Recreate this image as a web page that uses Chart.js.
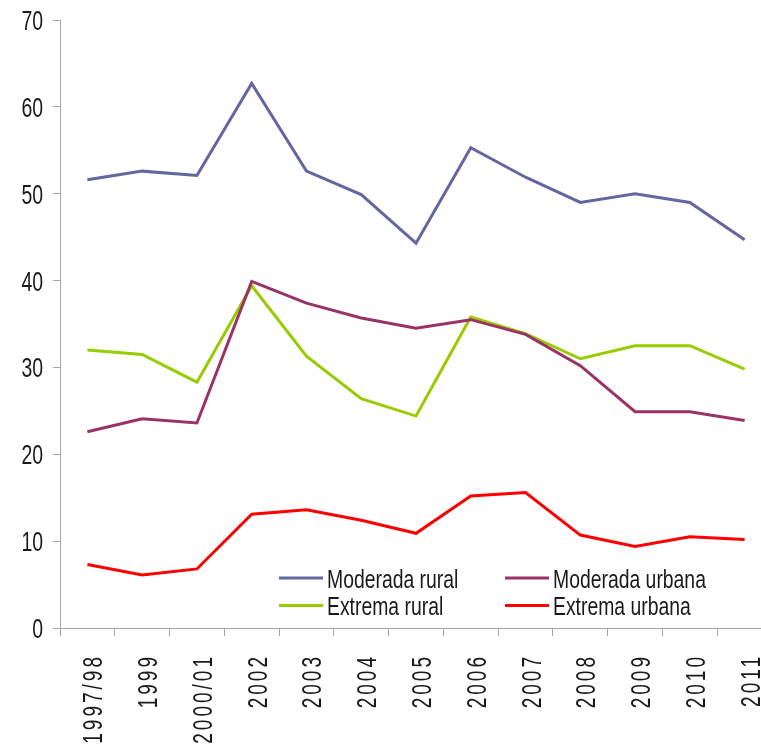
<!DOCTYPE html>
<html>
<head>
<meta charset="utf-8">
<script src="https://cdn.jsdelivr.net/npm/chart.js@4/dist/chart.umd.min.js"></script>
<style>
html,body{margin:0;padding:0;background:#fff;overflow:hidden;}
#wrap{position:relative;width:775px;height:753px;}
</style>
</head>
<body>
<div id="wrap"><canvas id="c"></canvas></div>
<script>
const categories = ["1997/98","1999","2000/01","2002","2003","2004","2005","2006","2007","2008","2009","2010","2011"];
const moderadaRural  = [51.6, 52.6, 52.1, 62.7, 52.6, 49.9, 44.3, 55.3, 51.9, 49.0, 50.0, 49.0, 44.7];
const moderadaUrbana = [22.6, 24.1, 23.6, 39.9, 37.4, 35.7, 34.5, 35.5, 33.8, 30.2, 24.9, 24.9, 23.9];
const extremaRural   = [32.0, 31.5, 28.3, 39.4, 31.3, 26.4, 24.4, 35.8, 33.9, 31.0, 32.5, 32.5, 29.8];
const extremaUrbana  = [7.3, 6.1, 6.8, 13.1, 13.6, 12.4, 10.9, 15.2, 15.6, 10.7, 9.4, 10.5, 10.2];
const yTicks = [0, 10, 20, 30, 40, 50, 60, 70];
const seriesNames = ["Moderada rural", "Moderada urbana", "Extrema rural", "Extrema urbana"];

const FONT = '"Liberation Sans", Arial, sans-serif';
const TEXT = '#1a1a1a';
const colors = ["#63669f", "#993366", "#99cc00", "#ff0000"];
const seriesData = [moderadaRural, moderadaUrbana, extremaRural, extremaUrbana];

// draws tick labels (condensed) and legend as canvas text
const textPlugin = {
  id: 'condensedText',
  afterDraw(chart) {
    const ctx = chart.ctx;
    const xs = chart.scales.x, ys = chart.scales.y;
    ctx.save();
    ctx.fillStyle = TEXT;
    // y labels
    ctx.font = '27px ' + FONT;
    ctx.textAlign = 'right';
    ctx.textBaseline = 'alphabetic';
    ys.ticks.forEach((t, i) => {
      const y = ys.getPixelForTick(i);
      ctx.save();
      ctx.translate(43, y + 10);
      ctx.scale(0.72, 1);
      ctx.fillText(String(t.value), 0, 0);
      ctx.restore();
    });
    // x labels
    ctx.font = '28px ' + FONT;
    xs.ticks.forEach((t, i) => {
      const x = xs.getPixelForTick(i);
      ctx.save();
      ctx.translate(x + 15, 654);
      ctx.rotate(-Math.PI / 2);
      ctx.scale(0.68, 1);
      ctx.letterSpacing = '4.4px';
      ctx.textAlign = 'right';
      ctx.fillText(String(xs.getLabelForValue(t.value)), 0, 0);
      ctx.restore();
    });
    // legend
    ctx.font = '26px ' + FONT;
    ctx.textAlign = 'left';
    const pos = [[279, 578], [505, 578], [279, 605.5], [505, 605.5]];
    chart.data.datasets.forEach((ds, i) => {
      const [x, y] = pos[i];
      ctx.strokeStyle = ds.borderColor;
      ctx.lineWidth = 3;
      ctx.beginPath();
      ctx.moveTo(x, y);
      ctx.lineTo(x + 44, y);
      ctx.stroke();
      ctx.save();
      ctx.translate(x + 48, y + 9.5);
      ctx.scale(0.745, 1);
      ctx.fillText(ds.label, 0, 0);
      ctx.restore();
    });
    ctx.restore();
  }
};

new Chart(document.getElementById('c'), {
  type: 'line',
  data: {
    labels: categories,
    datasets: seriesNames.map((n, i) => ({
      label: n,
      data: seriesData[i],
      borderColor: colors[i],
      backgroundColor: colors[i],
      borderWidth: 3,
      pointRadius: 0,
      tension: 0,
      fill: false
    }))
  },
  options: {
    responsive: true,
    maintainAspectRatio: false,
    animation: false,
    layout: { autoPadding: false, padding: { top: 20, right: 3, left: 0, bottom: 0 } },
    plugins: { legend: { display: false }, tooltip: { enabled: false } },
    scales: {
      x: {
        type: 'category',
        offset: true,
        grid: { offset: true, drawOnChartArea: false, drawTicks: true, tickLength: 8, color: '#a6a6a6', lineWidth: 1 },
        border: { color: '#a6a6a6', width: 1 },
        ticks: { display: false, autoSkip: false },
        afterFit(scale) { scale.height = 125; }
      },
      y: {
        min: 0, max: 70,
        afterBuildTicks(scale) { scale.ticks = yTicks.map(v => ({ value: v })); },
        grid: { drawOnChartArea: false, drawTicks: true, tickLength: 7, color: '#a6a6a6', lineWidth: 1 },
        border: { color: '#a6a6a6', width: 1 },
        ticks: { display: false },
        afterFit(scale) { scale.width = 60; }
      }
    }
  },
  plugins: [textPlugin]
});
</script>
</body>
</html>
